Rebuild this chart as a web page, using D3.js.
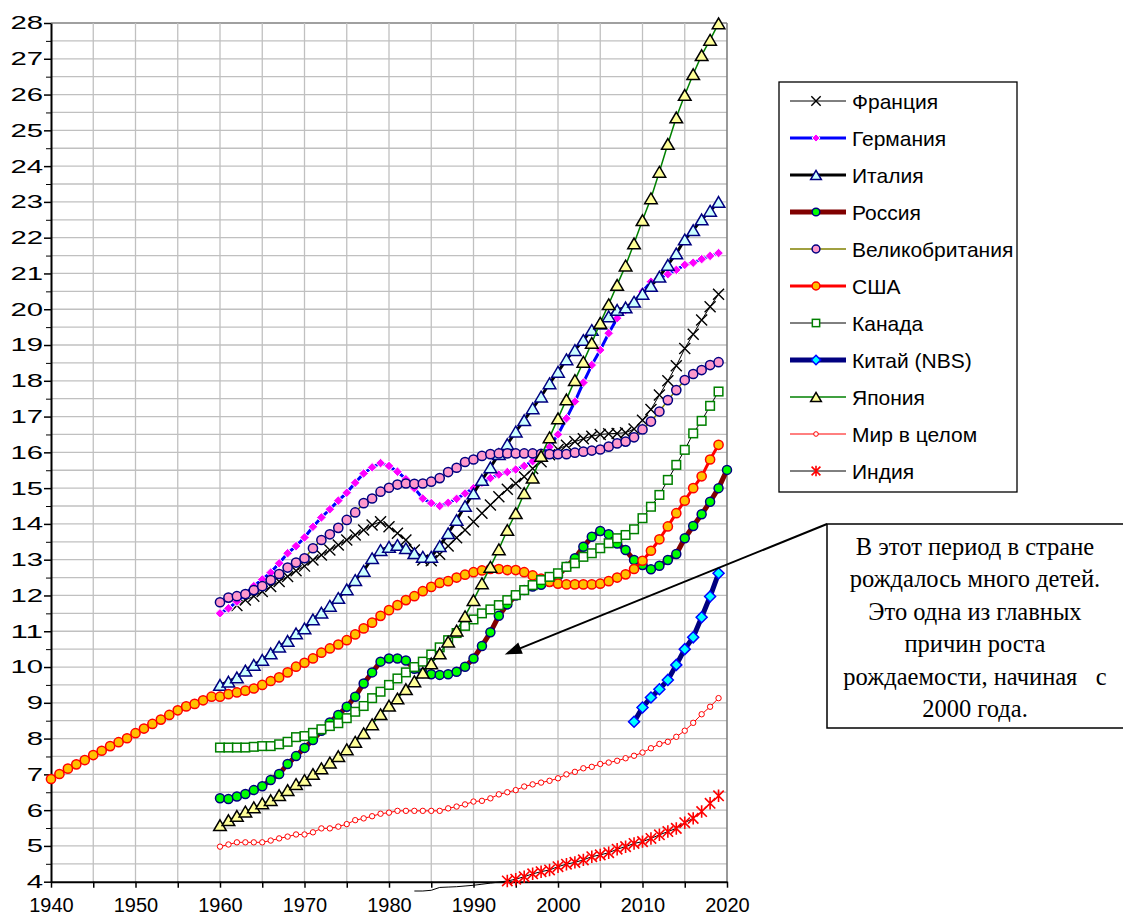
<!DOCTYPE html>
<html><head><meta charset="utf-8">
<script src="https://cdn.jsdelivr.net/npm/d3@7"></script>
<style>body{margin:0;background:#fff}svg{display:block}</style>
</head><body>
<svg id="chart" width="1123" height="917"></svg>
<script>
// ---------------- DATA ----------------
const xTickYears = [1940,1945,1950,1955,1960,1965,1970,1975,1980,1985,1990,1995,2000,2005,2010,2015,2020];
const yTickValues = [4,5,6,7,8,9,10,11,12,13,14,15,16,17,18,19,20,21,22,23,24,25,26,27,28];

const franceStart = 1962;
const france = [11.72,11.87,11.98,12.11,12.25,12.39,12.53,12.69,12.82,12.99,13.13,13.27,13.41,13.55,13.69,13.83,13.97,14.06,13.92,13.74,13.55,13.27,12.99,12.97,13.15,13.38,13.61,13.83,14.06,14.30,14.53,14.76,14.97,15.13,15.32,15.55,15.74,15.93,16.08,16.20,16.30,16.38,16.45,16.50,16.52,16.53,16.55,16.65,16.90,17.20,17.60,18.00,18.42,18.90,19.30,19.70,20.07,20.42];

const germanyStart = 1960;
const germany = [11.50,11.64,11.83,12.04,12.26,12.45,12.64,12.90,13.18,13.38,13.62,13.92,14.18,14.41,14.65,14.87,15.15,15.41,15.58,15.70,15.62,15.46,15.25,15.00,14.71,14.58,14.50,14.59,14.70,14.85,15.00,15.15,15.28,15.38,15.45,15.52,15.62,15.75,15.90,16.15,16.50,16.95,17.42,17.95,18.44,18.86,19.33,19.75,19.98,20.21,20.49,20.77,20.87,20.98,21.10,21.24,21.30,21.40,21.49,21.57];

const italyStart = 1960;
const italy = [9.50,9.59,9.71,9.90,10.06,10.20,10.38,10.57,10.73,10.94,11.08,11.33,11.52,11.71,11.93,12.17,12.43,12.69,13.04,13.27,13.36,13.41,13.32,13.18,13.08,13.08,13.38,13.74,14.11,14.50,14.85,15.23,15.58,15.95,16.23,16.58,16.90,17.23,17.56,17.93,18.25,18.60,18.86,19.14,19.42,19.60,19.80,19.98,20.05,20.21,20.43,20.65,20.91,21.24,21.56,21.95,22.21,22.51,22.75,23.00];

const russiaStart = 1960;
const russia = [6.33,6.31,6.38,6.45,6.56,6.67,6.84,7.01,7.29,7.51,7.74,7.96,8.22,8.45,8.66,8.89,9.17,9.54,9.85,10.15,10.24,10.24,10.18,9.95,9.83,9.80,9.78,9.80,9.87,10.01,10.24,10.59,10.97,11.43,11.75,12.00,12.15,12.25,12.30,12.38,12.55,12.80,13.04,13.36,13.64,13.80,13.71,13.45,13.27,12.99,12.85,12.73,12.83,12.99,13.16,13.60,13.94,14.27,14.62,15.00,15.51];

const ukStart = 1960;
const uk = [11.81,11.94,11.98,12.04,12.15,12.26,12.43,12.60,12.78,12.92,13.04,13.32,13.55,13.71,13.89,14.11,14.32,14.58,14.71,14.90,15.01,15.10,15.13,15.12,15.13,15.18,15.28,15.45,15.57,15.73,15.80,15.90,15.95,15.97,15.97,15.97,15.97,15.97,15.96,15.95,15.95,15.95,15.99,16.02,16.05,16.08,16.16,16.25,16.30,16.42,16.64,16.86,17.14,17.46,17.74,18.02,18.19,18.30,18.44,18.52];

const usaStart = 1940;
const usa = [6.87,7.01,7.16,7.28,7.40,7.54,7.66,7.79,7.90,8.01,8.15,8.28,8.41,8.53,8.66,8.79,8.90,8.97,9.07,9.17,9.17,9.24,9.29,9.34,9.40,9.50,9.61,9.71,9.85,10.01,10.12,10.24,10.40,10.52,10.63,10.75,10.91,11.08,11.24,11.43,11.59,11.73,11.87,11.98,12.12,12.24,12.35,12.40,12.50,12.58,12.65,12.70,12.74,12.74,12.71,12.71,12.65,12.56,12.47,12.38,12.33,12.31,12.31,12.31,12.31,12.33,12.40,12.50,12.59,12.74,12.97,13.25,13.57,13.93,14.30,14.65,15.00,15.33,15.80,16.21];

const canadaStart = 1960;
const canada = [7.75,7.75,7.75,7.75,7.77,7.79,7.79,7.84,7.91,8.04,8.07,8.16,8.26,8.35,8.43,8.57,8.75,8.91,9.13,9.31,9.50,9.68,9.85,10.00,10.15,10.35,10.55,10.75,10.95,11.15,11.33,11.50,11.61,11.73,11.87,12.01,12.15,12.29,12.43,12.52,12.62,12.80,12.90,13.08,13.18,13.32,13.46,13.60,13.69,13.85,14.16,14.48,14.81,15.23,15.65,16.07,16.53,16.88,17.30,17.70];

const chinaStart = 2009;
const china = [8.47,8.87,9.15,9.38,9.64,10.06,10.50,10.83,11.39,11.97,12.62];

const japanStart = 1960;
const japan = [5.58,5.72,5.84,5.96,6.08,6.19,6.28,6.42,6.56,6.73,6.84,7.01,7.17,7.33,7.51,7.70,7.91,8.15,8.40,8.68,8.92,9.12,9.38,9.60,9.84,10.10,10.38,10.71,11.02,11.42,11.87,12.34,12.80,13.29,13.83,14.30,14.86,15.29,15.90,16.42,16.95,17.48,18.02,18.53,19.06,19.62,20.14,20.68,21.22,21.84,22.49,23.10,23.84,24.62,25.36,25.99,26.57,27.10,27.53,27.99];

const worldStart = 1960;
const world = [4.98,5.04,5.10,5.10,5.10,5.10,5.15,5.21,5.26,5.32,5.32,5.38,5.49,5.49,5.54,5.61,5.72,5.77,5.83,5.90,5.93,5.98,5.98,5.98,5.98,5.98,5.98,6.05,6.10,6.16,6.24,6.26,6.33,6.44,6.50,6.56,6.66,6.72,6.77,6.82,6.89,7.00,7.07,7.17,7.21,7.29,7.33,7.38,7.45,7.52,7.61,7.73,7.85,7.91,8.05,8.22,8.44,8.68,8.89,9.13];

const indiaStart = 1983;
const india = [3.74,3.74,3.76,3.84,3.85,3.86,3.88,3.90,3.93,3.96,3.99,4.02,4.07,4.14,4.22,4.28,4.33,4.42,4.49,4.54,4.61,4.70,4.75,4.81,4.91,4.98,5.07,5.12,5.21,5.31,5.40,5.49,5.65,5.77,5.96,6.19,6.40];

const noteLines = ["В этот период в стране","рождалось много детей.","Это одна из главных","причин роста","рождаемости, начиная   с","2000 года."];
const noteTarget = [1993.7, 10.35]; // point the arrow refers to (year, value)

// ---------------- STYLES ----------------
const series = [
  {name:"Франция", start:franceStart, values:france, line:"#000", lw:1, mk:"x", fill:"none", stroke:"#000", s:5.5, sw:1.4},
  {name:"Германия", start:germanyStart, values:germany, line:"#0000FF", lw:3, mk:"diamond", fill:"#FF00FF", stroke:"#fff", s:4.8, sw:1},
  {name:"Италия", start:italyStart, values:italy, line:"#000", lw:3, mk:"triangle", fill:"#CCFFFF", stroke:"#000080", s:6.3, sw:1.5},
  {name:"Россия", start:russiaStart, values:russia, line:"#800000", lw:5, mk:"circle", fill:"#00FF00", stroke:"#000080", s:4.5, sw:1.5},
  {name:"Великобритания", start:ukStart, values:uk, line:"#808000", lw:1.5, mk:"circle", fill:"#FF99CC", stroke:"#000080", s:4.6, sw:1.5},
  {name:"США", start:usaStart, values:usa, line:"#FF0000", lw:3, mk:"circle", fill:"#FFC000", stroke:"#FF0000", s:4.6, sw:1.5},
  {name:"Канада", start:canadaStart, values:canada, line:"#000", lw:1, mk:"square", fill:"#fff", stroke:"#008000", s:4.3, sw:1.5},
  {name:"Китай (NBS)", start:chinaStart, values:china, line:"#000080", lw:5, mk:"diamond", fill:"#00FFFF", stroke:"#0000FF", s:5.5, sw:1.5},
  {name:"Япония", start:japanStart, values:japan, line:"#008000", lw:1.5, mk:"triangle", fill:"#FFFF99", stroke:"#000", s:6.3, sw:1.5},
  {name:"Мир в целом", start:worldStart, values:world, line:"#FF0000", lw:1, mk:"circle", fill:"#fff", stroke:"#FF0000", s:2.7, sw:1},
  {name:"Индия", start:indiaStart, values:india, line:"#000", lw:1, mk:"asterisk", fill:"none", stroke:"#FF0000", s:5.2, sw:1.6}
];

// ---------------- LAYOUT ----------------
const svg = d3.select("#chart");
const x = d3.scaleLinear().domain([1940,2020]).range([51,727]);
const y = d3.scaleLinear().domain([4,28]).range([881.7,23]);

// grid
const grid = svg.append("g");
grid.selectAll("line.h").data(d3.range(4.5,28.01,0.5)).join("line")
  .attr("x1",x(1940)).attr("x2",x(2020)).attr("y1",d=>y(d)).attr("y2",d=>y(d))
  .attr("stroke",d=>d===28?"#808080":"#C0C0C0").attr("stroke-width",d=>d===28?1.6:1.3);
grid.selectAll("line.v").data(xTickYears.slice(1)).join("line")
  .attr("y1",y(4)).attr("y2",y(28)).attr("x1",d=>x(d)).attr("x2",d=>x(d))
  .attr("stroke",d=>d===2020?"#808080":"#C0C0C0").attr("stroke-width",d=>d===2020?1.6:1.3);

// axes
const yAxis = d3.axisLeft(y).tickValues(yTickValues).tickSize(7).tickSizeOuter(0).tickPadding(1);
const gy = svg.append("g").attr("transform",`translate(${x(1940)},0)`).call(yAxis);
gy.selectAll(".tick text").attr("font-size",18.6).attr("font-family","'Liberation Sans',Arial,sans-serif").attr("fill","#000")
  .attr("textLength",d=>String(d).length*16.3).attr("lengthAdjust","spacingAndGlyphs");
const yMinor = d3.axisLeft(y).tickValues(d3.range(4.5,28,1)).tickSize(5).tickSizeOuter(0).tickFormat("");
svg.append("g").attr("transform",`translate(${x(1940)},0)`).call(yMinor).select(".domain").remove();

const xAxis = d3.axisBottom(x).tickValues(xTickYears).tickSize(6).tickSizeOuter(0).tickPadding(10)
  .tickFormat(d=>d%10===0?d:"");
const gx = svg.append("g").attr("transform",`translate(0,${y(4)})`).call(xAxis);
gx.selectAll(".tick text").attr("font-size",20).attr("font-family","'Liberation Sans',Arial,sans-serif").attr("fill","#000");
[gx,gy].forEach(g=>{g.select(".domain").attr("stroke","#000").attr("stroke-width",2);g.selectAll(".tick line").attr("stroke","#000").attr("stroke-width",1.5);});

// marker drawing
function drawMarker(sel, sr){
  if(sr.mk==="circle"){
    sel.append("circle").attr("r",sr.s);
  } else if(sr.mk==="square"){
    sel.append("rect").attr("x",-sr.s).attr("y",-sr.s).attr("width",2*sr.s).attr("height",2*sr.s);
  } else {
    const s=sr.s; let p;
    if(sr.mk==="triangle") p=`M0,${-s*0.85}L${s},${s*0.85}L${-s},${s*0.85}Z`;
    else if(sr.mk==="diamond") p=`M0,${-s}L${s},0L0,${s}L${-s},0Z`;
    else if(sr.mk==="x") p=`M${-s},${-s}L${s},${s}M${-s},${s}L${s},${-s}`;
    else p=`M${-s},${-s}L${s},${s}M${-s},${s}L${s},${-s}M0,${-s*1.2}L0,${s*1.2}`;
    sel.append("path").attr("d",p);
  }
  sel.selectAll("*").attr("fill",sr.fill).attr("stroke",sr.stroke).attr("stroke-width",sr.sw);
}

const line = d3.line().x(d=>x(d.year)).y(d=>y(d.v));
series.forEach(sr=>{
  const pts = sr.values.map((v,i)=>({year:sr.start+i, v}));
  const g = svg.append("g");
  g.append("path").datum(pts).attr("d",line).attr("fill","none")
    .attr("stroke",sr.line).attr("stroke-width",sr.lw).attr("stroke-linejoin","round");
  g.selectAll("g.m").data(pts.filter(p=>p.v>=4)).join("g")
    .attr("transform",d=>`translate(${x(d.year)},${y(d.v)})`)
    .each(function(){drawMarker(d3.select(this),sr);});
});

// legend
const lg = svg.append("g");
lg.append("rect").attr("x",779).attr("y",82).attr("width",238).attr("height",410)
  .attr("fill","#fff").attr("stroke","#000").attr("stroke-width",1.3);
series.forEach((sr,i)=>{
  const cy = 101 + i*37;
  const e = lg.append("g").attr("transform",`translate(0,${cy})`);
  e.append("line").attr("x1",790).attr("x2",846).attr("stroke",sr.line).attr("stroke-width",sr.lw);
  const m = e.append("g").attr("transform","translate(816,0)");
  drawMarker(m, Object.assign({}, sr, {s: sr.s*0.85}));
  e.append("text").attr("x",852).attr("y",7.5).attr("font-size",21)
    .attr("font-family","'Liberation Sans',Arial,sans-serif").text(sr.name);
});

// annotation
const tip = [x(noteTarget[0]), y(noteTarget[1])];
const corner = [827,524];
svg.append("line").attr("x1",corner[0]).attr("y1",corner[1]).attr("x2",tip[0]+14).attr("y2",tip[1]-5.7)
  .attr("stroke","#000").attr("stroke-width",2);
const ang = Math.atan2(corner[1]-tip[1], corner[0]-tip[0]);
const L=17, W=6;
const bx = tip[0]+L*Math.cos(ang), by = tip[1]+L*Math.sin(ang);
svg.append("path").attr("d",`M${tip[0]},${tip[1]}L${bx - W*Math.sin(ang)},${by + W*Math.cos(ang)}L${bx + W*Math.sin(ang)},${by - W*Math.cos(ang)}Z`).attr("fill","#000");

svg.append("rect").attr("x",827).attr("y",524).attr("width",300).attr("height",204)
  .attr("fill","#fff").attr("stroke","#000").attr("stroke-width",1.5);
svg.append("g").selectAll("text").data(noteLines).join("text")
  .attr("x",975).attr("y",(d,i)=>555+i*32.4).attr("text-anchor","middle")
  .attr("font-size",24.5).attr("font-family","'Liberation Serif','Times New Roman',serif")
  .style("white-space","pre").text(d=>d);
</script>
</body></html>
